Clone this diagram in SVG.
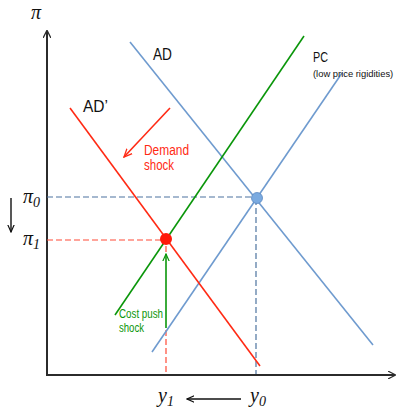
<svg xmlns="http://www.w3.org/2000/svg" width="397" height="409" viewBox="0 0 397 409">
<style>
.ax{stroke:#2b2b2b;stroke-width:2;fill:none}
.blue{stroke:#6f9bcf;stroke-width:1.6;fill:none}
.red{stroke:#ff2a14;stroke-width:1.6;fill:none}
.green{stroke:#0a960a;stroke-width:1.6;fill:none}
.dblue{stroke:#4d739f;stroke-width:1.2;stroke-dasharray:6,3;fill:none}
.dred{stroke:#ff4a36;stroke-width:1.2;stroke-dasharray:6,3;fill:none}
.lbl{font-family:"Liberation Sans","Open Sans",sans-serif;fill:#111}
.math{font-family:"Liberation Serif","DejaVu Serif",serif;font-style:italic;fill:#111}
</style>
<defs>
<marker id="ah" viewBox="0 0 10 10" refX="9" refY="5" markerWidth="8" markerHeight="8" orient="auto" markerUnits="userSpaceOnUse"><path d="M0,0 L10,5 L0,10" fill="none" stroke="#2b2b2b" stroke-width="1.6"/></marker>
<marker id="ahk" viewBox="0 0 10 10" refX="9" refY="5" markerWidth="8" markerHeight="8" orient="auto" markerUnits="userSpaceOnUse"><path d="M0,1 L9,5 L0,9" fill="none" stroke="#111" stroke-width="1.5"/></marker>
<marker id="ahr" viewBox="0 0 10 10" refX="9" refY="5" markerWidth="9" markerHeight="9" orient="auto" markerUnits="userSpaceOnUse"><path d="M0,1 L9,5 L0,9" fill="none" stroke="#ff2a14" stroke-width="1.5"/></marker>
<marker id="ahg" viewBox="0 0 10 10" refX="9" refY="5" markerWidth="8" markerHeight="8" orient="auto" markerUnits="userSpaceOnUse"><path d="M0,1 L9,5 L0,9" fill="none" stroke="#0a960a" stroke-width="1.5"/></marker>
</defs>
<g id="axes">
<line class="ax" x1="47" y1="375" x2="47" y2="31" marker-end="url(#ah)"/>
<line class="ax" x1="46" y1="375" x2="395" y2="375" marker-end="url(#ah)"/>
<text class="math" x="31" y="19" font-size="20">π</text>
</g>
<g id="connectors">
<line class="dblue" x1="47" y1="197" x2="256" y2="197"/>
<line class="dblue" x1="256" y1="199" x2="256" y2="374"/>
<line class="dred" x1="47" y1="240" x2="165" y2="240"/>
<line class="dred" x1="166" y1="246" x2="166" y2="252"/>
<line class="dred" x1="166" y1="330" x2="166" y2="374"/>
<line x1="166" y1="328" x2="166" y2="254" class="green" marker-end="url(#ahg)"/>
<line x1="170" y1="108" x2="124" y2="157" class="red" marker-end="url(#ahr)"/>
<line x1="11" y1="198" x2="11" y2="232" stroke="#111" stroke-width="1.4" marker-end="url(#ahk)"/>
<line x1="241" y1="399" x2="187" y2="399" stroke="#111" stroke-width="1.6" marker-end="url(#ahk)"/>
</g>
<g id="AD">
<line class="blue" x1="130" y1="42" x2="373" y2="345"/>
<text class="lbl" x="153" y="60" font-size="16" textLength="19" lengthAdjust="spacingAndGlyphs">AD</text>
</g>
<g id="PC">
<line class="blue" x1="152" y1="352" x2="342" y2="73"/>
<text class="lbl" x="313" y="62" font-size="15" textLength="15" lengthAdjust="spacingAndGlyphs">PC</text>
<text class="lbl" x="313" y="77" font-size="9.4">(low price rigidities)</text>
</g>
<g id="PC2">
<line class="green" x1="115" y1="315" x2="304" y2="36"/>
<text x="119" y="318" font-size="12" font-family="Liberation Sans, sans-serif" fill="#0a960a" textLength="44" lengthAdjust="spacingAndGlyphs">Cost push</text>
<text x="119" y="332" font-size="12" font-family="Liberation Sans, sans-serif" fill="#0a960a" textLength="25" lengthAdjust="spacingAndGlyphs">shock</text>
</g>
<g id="ADprime">
<line class="red" x1="70" y1="108" x2="260" y2="366"/>
<text class="lbl" x="83" y="112" font-size="16" textLength="25" lengthAdjust="spacingAndGlyphs">AD’</text>
</g>
<g id="demand-shock">
<text x="144" y="155" font-size="14" font-family="Liberation Sans, sans-serif" fill="#ff2a14" textLength="45" lengthAdjust="spacingAndGlyphs">Demand</text>
<text x="144" y="170" font-size="14" font-family="Liberation Sans, sans-serif" fill="#ff2a14" textLength="30" lengthAdjust="spacingAndGlyphs">shock</text>
</g>
<g id="E0">
<circle cx="257" cy="198" r="5.5" fill="#7aaae0" stroke="#5b88c0" stroke-width="0.8"/>
</g>
<g id="E1">
<circle cx="166" cy="239" r="6" fill="#ff1a0a"/>
</g>
<g id="labels">
<text class="math" x="23" y="203" font-size="20">π<tspan font-size="14" dy="4">0</tspan></text>
<text class="math" x="23" y="245" font-size="20">π<tspan font-size="14" dy="4">1</tspan></text>
<text class="math" x="158" y="402" font-size="20">y<tspan font-size="14" dy="4">1</tspan></text>
<text class="math" x="250" y="402" font-size="20">y<tspan font-size="14" dy="4">0</tspan></text>
</g>
</svg>
